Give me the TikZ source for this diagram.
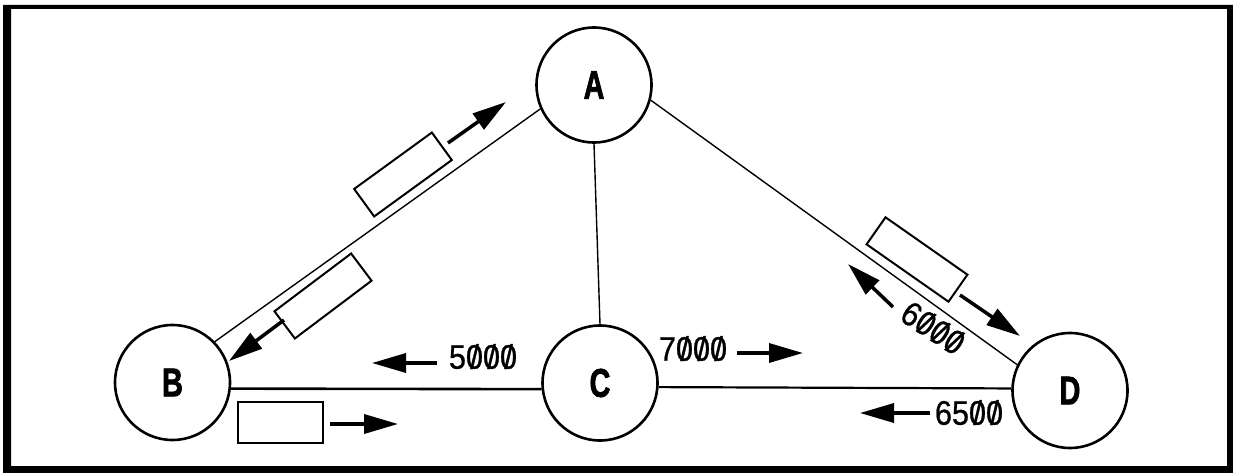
\documentclass[tikz,border=0pt]{standalone}
\usepackage{fontspec}
\setmainfont{Liberation Sans}
\newfontfamily\sitefont[FakeBold=2.2]{Liberation Sans Bold}
\newfontfamily\qtyfont[FakeBold=0.8]{Liberation Sans}
\usetikzlibrary{arrows.meta}
% zero with a slash through it
\newcommand{\zs}{\ooalign{0\cr\hidewidth/\hidewidth\cr}}
\begin{document}
\begin{tikzpicture}[x=1pt,y=-1pt,
  site/.style={circle,draw,line width=2.6pt,minimum size=115pt,inner sep=0pt,
    font=\sitefont\fontsize{40}{44}\selectfont},
  link/.style={line width=1.4pt},
  trunk/.style={line width=2.6pt},
  packet/.style={draw,line width=2pt,minimum width=96pt,minimum height=34pt,inner sep=0pt},
  flow/.style={line width=3.5pt,-{Triangle[length=34pt,width=19pt]}},
  qty/.style={font=\qtyfont\fontsize{34}{38}\selectfont,inner sep=0pt}]
\useasboundingbox (0,0) rectangle (1233,473);
% frame
\fill[even odd rule] (3,5) rectangle (1233,473) (11,9) rectangle (1227,466);

% sites
\node[site] (A) at (594,85) {\scalebox{0.72}[1]{A}};
\node[site] (B) at (172.5,382.5) {\scalebox{0.72}[1]{B}};
\node[site] (C) at (600,383) {\scalebox{0.72}[1]{C}};
\node[site] (D) at (1070,390.5) {\scalebox{0.72}[1]{D}};

% links
\draw[link] (A.204) -- (B.44);
\draw[link] (A.south) -- (C.north);
\draw[link] (A.345) -- (D.154);
\draw[trunk] (B.-6.5) -- (C.186);
\draw[line width=2.2pt] (C.-4) -- (D.178);

% packets
\node[packet,rotate=36] (p1) at (403,174.5) {};
\node[packet,rotate=37] (p2) at (323,296) {};
\node[packet,minimum width=85pt,minimum height=41pt] (p3) at (280.5,422.5) {};
\node[packet,rotate=-35,minimum width=100pt,minimum height=33pt] (p4) at (917,259.5) {};

% flow arrows
\coordinate (f1s) at (448,143);  \coordinate (f1e) at (506,102);
\coordinate (f2s) at (284,320);  \coordinate (f2e) at (229,361);
\coordinate (f3s) at (330,424);  \coordinate (f3e) at (398,424);
\coordinate (f4s) at (960,295);  \coordinate (f4e) at (1020,336);
\coordinate (f5s) at (893,307);  \coordinate (f5e) at (848,264);
\coordinate (f6s) at (437,363);  \coordinate (f6e) at (372,363);
\coordinate (f7s) at (737,353);  \coordinate (f7e) at (803,353);
\coordinate (f8s) at (930,413);  \coordinate (f8e) at (860,413);
\foreach \k in {1,...,8} \draw[flow] (f\k s) -- (f\k e);

% quantities
\node[qty] (q5) at (483,357) {\scalebox{0.9}[1]{5\zs\zs\zs}};
\node[qty] (q7) at (693,349) {\scalebox{0.9}[1]{7\zs\zs\zs}};
\node[qty] (q65) at (969,413) {\scalebox{0.9}[1]{65\zs\zs}};
\node[qty,rotate=-33] (q6) at (933,328) {\scalebox{0.9}[1]{6\zs\zs\zs}};
\end{tikzpicture}
\end{document}
